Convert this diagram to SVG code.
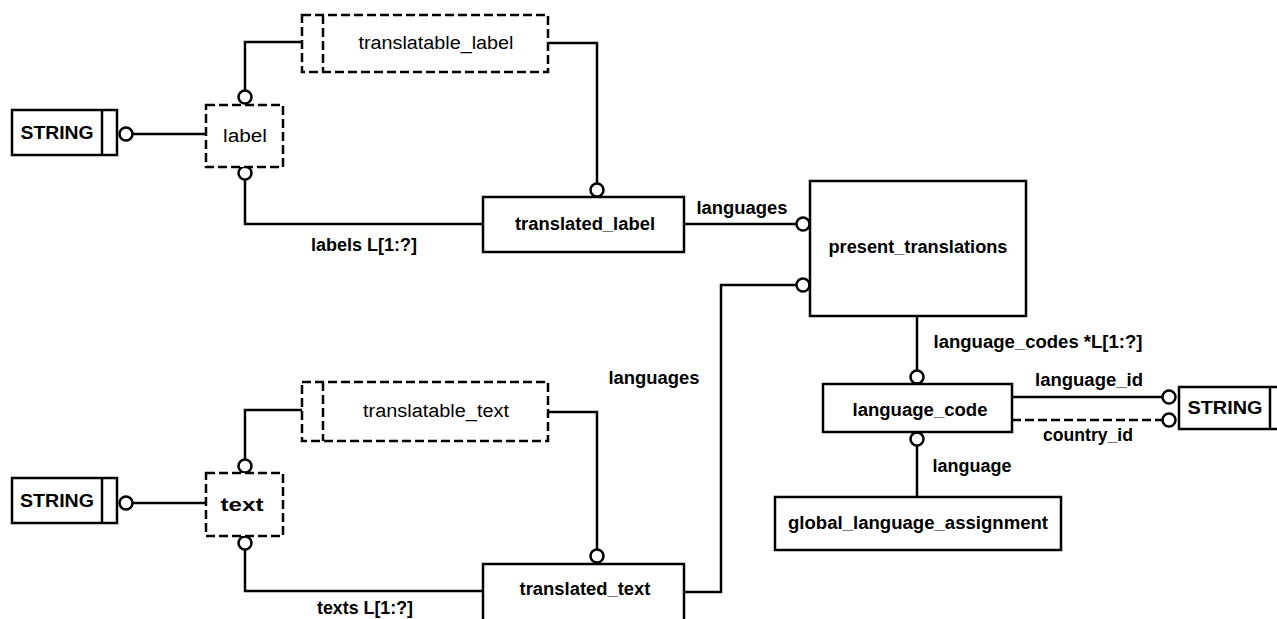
<svg xmlns="http://www.w3.org/2000/svg" width="1277" height="619" viewBox="0 0 1277 619">
<style>
.box{fill:#fff;stroke:#000;stroke-width:2.5}
.dbox{fill:#fff;stroke:#000;stroke-width:2.5;stroke-dasharray:9 4}
.dl{fill:none;stroke:#000;stroke-width:2.5;stroke-dasharray:9 4}
.ln{fill:none;stroke:#000;stroke-width:2.5}
.dot{fill:#fff;stroke:#000;stroke-width:2.5}
text{font-family:"Liberation Sans",Arial,sans-serif;font-size:18px;fill:#000;text-anchor:middle}
.b{font-weight:bold}
</style>
<rect width="1277" height="619" fill="#fff"/>
<g id="connectors">
<path class="ln" d="M132,134 H206"/>
<circle class="dot" cx="126" cy="134" r="6.5"/>
<path class="ln" d="M245,91 V42 H302"/>
<circle class="dot" cx="245" cy="97" r="6.5"/>
<path class="ln" d="M548,43 H597 V184"/>
<circle class="dot" cx="597" cy="190" r="6.5"/>
<path class="ln" d="M245,179 V224 H483"/>
<circle class="dot" cx="245" cy="173" r="6.5"/>
<path class="ln" d="M684,224 H797"/>
<circle class="dot" cx="803" cy="224" r="6.5"/>
<path class="ln" d="M684,592 H721 V285 H797"/>
<circle class="dot" cx="803" cy="285" r="6.5"/>
<path class="ln" d="M917,316 V371"/>
<circle class="dot" cx="917" cy="377" r="6.5"/>
<path class="ln" d="M1012,397 H1163"/>
<circle class="dot" cx="1169" cy="397" r="6.5"/>
<path class="dl" d="M1012,420 H1163"/>
<circle class="dot" cx="1169" cy="420" r="6.5"/>
<path class="ln" d="M917,445 V497"/>
<circle class="dot" cx="917" cy="439" r="6.5"/>
<path class="ln" d="M132,503 H206"/>
<circle class="dot" cx="126" cy="503" r="6.5"/>
<path class="ln" d="M245,460 V410 H302"/>
<circle class="dot" cx="245" cy="466" r="6.5"/>
<path class="ln" d="M548,412 H597 V550"/>
<circle class="dot" cx="597" cy="556" r="6.5"/>
<path class="ln" d="M245,549 V591 H483"/>
<circle class="dot" cx="245" cy="543" r="6.5"/>
<text class="b" x="364" y="251" textLength="106" lengthAdjust="spacingAndGlyphs">labels L[1:?]</text>
<text class="b" x="742" y="214" textLength="91" lengthAdjust="spacingAndGlyphs">languages</text>
<text class="b" x="654" y="384" textLength="91" lengthAdjust="spacingAndGlyphs">languages</text>
<text class="b" x="1038" y="348" textLength="209" lengthAdjust="spacingAndGlyphs">language_codes *L[1:?]</text>
<text class="b" x="1089" y="386" textLength="108" lengthAdjust="spacingAndGlyphs">language_id</text>
<text class="b" x="1088" y="441" textLength="90" lengthAdjust="spacingAndGlyphs">country_id</text>
<text class="b" x="972" y="472" textLength="79" lengthAdjust="spacingAndGlyphs">language</text>
<text class="b" x="365" y="614" textLength="96" lengthAdjust="spacingAndGlyphs">texts L[1:?]</text>
</g>
<g id="string1">
<rect class="box" x="12" y="110" width="105" height="45"/>
<path class="ln" d="M102,110 V155"/>
<text class="b" x="57" y="139" textLength="73" lengthAdjust="spacingAndGlyphs">STRING</text>
</g>
<g id="label">
<rect class="dbox" x="206" y="105" width="77" height="62"/>
<text x="245" y="142" textLength="44" lengthAdjust="spacingAndGlyphs">label</text>
</g>
<g id="translatable_label">
<rect class="dbox" x="302" y="15" width="246" height="57"/>
<path class="dl" d="M323,15 V72"/>
<text x="436" y="49" textLength="155" lengthAdjust="spacingAndGlyphs">translatable_label</text>
</g>
<g id="translated_label">
<rect class="box" x="483" y="197" width="201" height="55"/>
<text class="b" x="585" y="230" textLength="140" lengthAdjust="spacingAndGlyphs">translated_label</text>
</g>
<g id="present_translations">
<rect class="box" x="810" y="181" width="216" height="135"/>
<text class="b" x="918" y="253" textLength="179" lengthAdjust="spacingAndGlyphs">present_translations</text>
</g>
<g id="language_code">
<rect class="box" x="823" y="384" width="189" height="48"/>
<text class="b" x="920" y="416" textLength="135" lengthAdjust="spacingAndGlyphs">language_code</text>
</g>
<g id="string2">
<rect class="box" x="1179" y="387" width="110" height="42"/>
<path class="ln" d="M1270,387 V429"/>
<text class="b" x="1225" y="414" textLength="75" lengthAdjust="spacingAndGlyphs">STRING</text>
</g>
<g id="global_language_assignment">
<rect class="box" x="775" y="497" width="286" height="53"/>
<text class="b" x="918" y="529" textLength="260" lengthAdjust="spacingAndGlyphs">global_language_assignment</text>
</g>
<g id="string3">
<rect class="box" x="12" y="478" width="105" height="45"/>
<path class="ln" d="M102,478 V523"/>
<text class="b" x="57" y="507" textLength="74" lengthAdjust="spacingAndGlyphs">STRING</text>
</g>
<g id="text">
<rect class="dbox" x="206" y="473" width="77" height="63"/>
<text class="b" x="242" y="511" textLength="43" lengthAdjust="spacingAndGlyphs">text</text>
</g>
<g id="translatable_text">
<rect class="dbox" x="302" y="382" width="246" height="59"/>
<path class="dl" d="M323,382 V441"/>
<text x="436" y="417" textLength="146" lengthAdjust="spacingAndGlyphs">translatable_text</text>
</g>
<g id="translated_text">
<rect class="box" x="483" y="564" width="201" height="70"/>
<text class="b" x="585" y="595" textLength="131" lengthAdjust="spacingAndGlyphs">translated_text</text>
</g>
</svg>
